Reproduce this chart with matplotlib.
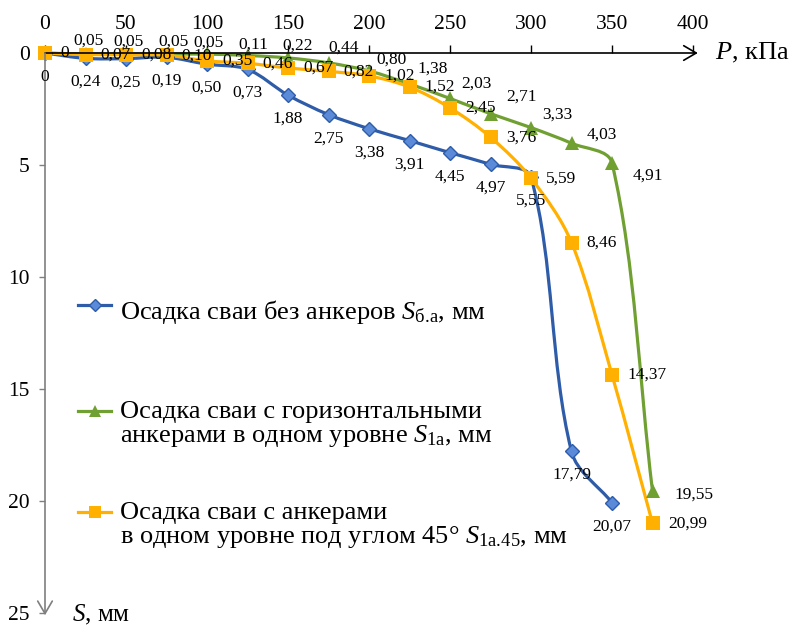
import matplotlib
matplotlib.use('Agg')
import matplotlib.pyplot as plt
from matplotlib.path import Path
from matplotlib.patches import PathPatch
from matplotlib.lines import Line2D
import numpy as np

plt.rcParams['font.family'] = 'Liberation Serif'
plt.rcParams['mathtext.fontset'] = 'custom'
plt.rcParams['mathtext.rm'] = 'Liberation Serif'
plt.rcParams['mathtext.it'] = 'Liberation Serif:italic'

# нагрузка P, кПа
load = [0, 25, 50, 75, 100, 125, 150, 175, 200, 225, 250, 275, 300, 325, 350, 375]

# осадки, мм
s_no_anchor = [0, 0.24, 0.25, 0.19, 0.50, 0.73, 1.88, 2.75, 3.38, 3.91, 4.45, 4.97, 5.55, 17.79, 20.07]
s_horizontal = [0, 0.05, 0.05, 0.05, 0.05, 0.11, 0.22, 0.44, 0.80, 1.38, 2.03, 2.71, 3.33, 4.03, 4.91, 19.55]
s_angle45 = [0, 0.07, 0.08, 0.10, 0.35, 0.46, 0.67, 0.82, 1.02, 1.52, 2.45, 3.76, 5.59, 8.46, 14.37, 20.99]

x_ticks = [0, 50, 100, 150, 200, 250, 300, 350, 400]
y_ticks = [0, 5, 10, 15, 20, 25]

# сдвиги подписей зеленой серии (пт)
green_offsets = [(0, 10), (2, 10), (2, 9), (5, 9), (1, 8), (4, 8), (7, 9), (11, 11), (16, 8),
                 (17, 11), (19, 11), (22, 12), (19, 9), (22, 6), (26, -9), (30, -3)]

blue_line = '#2E5CA8'
blue_face = '#5B8BD8'
green = '#70A032'
orange = '#FFB000'


def smooth_path(ax, xs, ys):
    # сглаживание как в Excel: Безье, касательные по длинам хорд (в пикселях)
    pts = ax.transData.transform(np.column_stack([xs, ys]).astype(float))
    n = len(pts)
    verts = [pts[0]]
    codes = [Path.MOVETO]
    for i in range(n - 1):
        p0 = pts[max(i - 1, 0)]
        p1 = pts[i]
        p2 = pts[i + 1]
        p3 = pts[min(i + 2, n - 1)]
        d01 = np.hypot(*(p1 - p0))
        d12 = np.hypot(*(p2 - p1))
        d23 = np.hypot(*(p3 - p2))
        k1 = d12 / (d01 + d12) / 3 if d01 > 0 else 1 / 3
        k2 = d12 / (d12 + d23) / 3 if d23 > 0 else 1 / 3
        c1 = p1 + (p2 - p0) * k1 if d01 > 0 else p1 + (p2 - p1) / 3
        c2 = p2 - (p3 - p1) * k2 if d23 > 0 else p2 - (p2 - p1) / 3
        verts += [c1, c2, p2]
        codes += [Path.CURVE4] * 3
    verts = ax.transData.inverted().transform(np.array(verts))
    return Path(verts, codes)


def fmt(v):
    return '0' if v == 0 else f'{v:.2f}'.replace('.', ',')


fig = plt.figure(figsize=(7.91, 6.26), dpi=100)
ax = fig.add_axes([45 / 791, 1 - 613 / 626, 648 / 791, 560 / 626])
ax.set_xlim(0, 400)
ax.set_ylim(25, 0)
for sp in ax.spines.values():
    sp.set_visible(False)

ax.xaxis.tick_top()
ax.set_xticks(x_ticks)
ax.set_yticks(y_ticks)
ax.tick_params(axis='x', direction='out', length=6, width=1, color='black', pad=8, labelsize=15.5)
ax.tick_params(axis='y', direction='out', length=4, width=1, color='#7f7f7f', pad=7, labelsize=15.5)

# оси со стрелками
ax.annotate('', xy=(403, 0), xytext=(0, 0), annotation_clip=False,
            arrowprops=dict(arrowstyle='->,head_length=0.6,head_width=0.35', mutation_scale=15,
                            color='black', lw=1.2, shrinkA=0, shrinkB=0))
ax.annotate('', xy=(0, 25.1), xytext=(0, 0), annotation_clip=False,
            arrowprops=dict(arrowstyle='->,head_length=0.6,head_width=0.35', mutation_scale=15,
                            color='#7f7f7f', lw=1.2, shrinkA=0, shrinkB=0))

series = [
    (load[:len(s_no_anchor)], s_no_anchor, blue_line, dict(marker='D', ms=7, mfc=blue_face, mec=blue_line, mew=1)),
    (load, s_horizontal, green, dict(marker='^', ms=10, mfc=green, mec=green, mew=0)),
    (load, s_angle45, orange, dict(marker='s', ms=10, mfc=orange, mec=orange, mew=0)),
]
for xs, ys, col, mk in series:
    ax.add_patch(PathPatch(smooth_path(ax, xs, ys), fill=False, edgecolor=col, lw=2.3, clip_on=False))
    ax.plot(xs, ys, ls='none', clip_on=False, **mk)

for x, y in zip(load, s_no_anchor):
    ax.annotate(fmt(y), (x, y), xytext=(0, -17), textcoords='offset points',
                ha='center', va='center', fontsize=12.5)
for i, (x, y) in enumerate(zip(load, s_horizontal)):
    if i == 0:
        continue
    dx, dy = green_offsets[i]
    ax.annotate(fmt(y), (x, y), xytext=(dx, dy), textcoords='offset points',
                ha='center', va='center', fontsize=12.5)
for x, y in zip(load, s_angle45):
    ax.annotate(fmt(y), (x, y), xytext=(11, 0), textcoords='offset points',
                ha='left', va='center', fontsize=12.5)

fig.text(715 / 791, 1 - 53 / 626, r'$P$, кПа', ha='left', va='center', fontsize=19)
fig.text(72 / 791, 1 - 615 / 626, r'$S$, мм', ha='left', va='center', fontsize=18)

# легенда
legend_items = [
    (305, 312, 'Осадка сваи без анкеров $S_{\\mathrm{б}.\\!\\mathrm{а}}$, мм', blue_line,
     dict(marker='D', ms=6, mfc=blue_face, mec=blue_line, mew=1)),
    (411, 425, 'Осадка сваи с горизонтальными\nанкерами в одном уровне $S_{\\mathrm{1а}}$, мм', green,
     dict(marker='^', ms=9, mfc=green, mec=green, mew=0)),
    (512, 526, 'Осадка сваи с анкерами\nв одном уровне под углом 45° $S_{\\mathrm{1а}.\\!\\mathrm{45}}$, мм', orange,
     dict(marker='s', ms=8, mfc=orange, mec=orange, mew=0)),
]
for hy, ty, txt, col, mk in legend_items:
    fig.add_artist(Line2D([78 / 791, 111 / 791], [1 - hy / 626] * 2, color=col, lw=2.3))
    fig.add_artist(Line2D([94.5 / 791], [1 - hy / 626], color=col, ls='none', **mk))
    fig.text(120 / 791, 1 - ty / 626, txt, ha='left', va='center', fontsize=19, linespacing=0.98)

fig.savefig('out.png', dpi=100)
